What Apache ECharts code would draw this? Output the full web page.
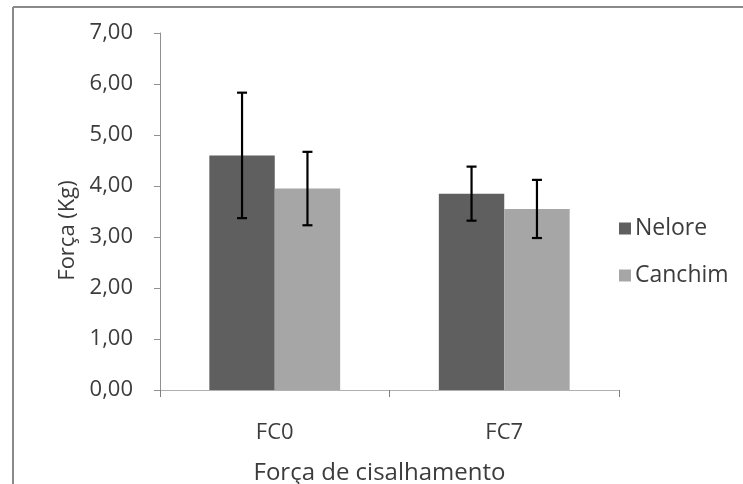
<!DOCTYPE html>
<html>
<head>
<meta charset="utf-8">
<script src="https://cdn.jsdelivr.net/npm/echarts@6/dist/echarts.min.js"></script>
<style>html,body{margin:0;padding:0;background:#fff}#c{width:743px;height:484px}</style>
</head>
<body>
<div id="c"></div>
<script>
var categories = ['FC0', 'FC7'];
var seriesNames = ['Nelore', 'Canchim'];
var nelore = [4.60, 3.85];
var canchim = [3.95, 3.55];
var neloreErr = [1.23, 0.53];
var canchimErr = [0.72, 0.57];
var yTicks = [0, 1, 2, 3, 4, 5, 6, 7];

var chart = echarts.init(document.getElementById('c'));
var font = 'Open Sans';
var txt = '#3c3c3c';

function errSeries(idx, vals, errs) {
  return {
    type: 'custom',
    name: seriesNames[idx] + ' err',
    z: 10,
    renderItem: function (params, api) {
      var ci = api.value(0);
      var lo = api.coord([ci, api.value(1)]);
      var hi = api.coord([ci, api.value(2)]);
      var band = api.size([1, 0])[0];
      var barW = band * 0.57 / 2;
      var x = lo[0] + (idx === 0 ? -barW / 2 : barW / 2);
      var cap = 5;
      var st = { stroke: '#000', lineWidth: 2.2 };
      return { type: 'group', children: [
        { type: 'line', shape: { x1: x, y1: lo[1], x2: x, y2: hi[1] }, style: st },
        { type: 'line', shape: { x1: x - cap, y1: lo[1], x2: x + cap, y2: lo[1] }, style: st },
        { type: 'line', shape: { x1: x - cap, y1: hi[1], x2: x + cap, y2: hi[1] }, style: st }
      ]};
    },
    data: vals.map(function (v, i) { return [i, v - errs[i], v + errs[i]]; })
  };
}

chart.setOption({
  animation: false,
  backgroundColor: '#fff',
  graphic: [
    { type: 'line', shape: { x1: 13, y1: 7, x2: 743, y2: 7 }, style: { stroke: '#8a8a8a', lineWidth: 2 } },
    { type: 'line', shape: { x1: 13, y1: 7, x2: 13, y2: 484 }, style: { stroke: '#8a8a8a', lineWidth: 2 } }
  ],
  grid: { left: 160, right: 124, top: 33, bottom: 94, containLabel: false, outerBoundsMode: 'none' },
  legend: {
    orient: 'vertical',
    left: 614, top: 212,
    itemWidth: 12, itemHeight: 12, itemGap: 24,
    icon: 'rect',
    data: seriesNames,
    textStyle: { fontFamily: font, fontSize: 23, color: txt, padding: [0, 0, 0, -1] }
  },
  xAxis: {
    type: 'category',
    data: categories,
    name: 'Força de cisalhamento',
    nameLocation: 'middle',
    nameGap: 71,
    nameTextStyle: { fontFamily: font, fontSize: 24, color: txt, padding: [0, 20, 0, 0] },
    axisLine: { lineStyle: { color: '#b0b0b0', width: 1 } },
    axisTick: { show: true, length: 7, lineStyle: { color: '#808080' } },
    axisLabel: { fontFamily: font, fontSize: 22, color: txt, margin: 32 }
  },
  yAxis: {
    type: 'value',
    min: 0, max: 7, interval: 1,
    name: 'Força (Kg)',
    nameLocation: 'middle',
    nameGap: 79,
    nameRotate: 90,
    nameTextStyle: { fontFamily: font, fontSize: 22, color: txt, padding: [0, 38, 0, 0] },
    axisLine: { show: true, lineStyle: { color: '#909090', width: 1 } },
    axisTick: { show: true, length: 6, lineStyle: { color: '#909090' } },
    splitLine: { show: false },
    axisLabel: {
      fontFamily: font, fontSize: 22, color: txt, margin: 27,
      formatter: function (v) { return yTicks.indexOf(v) >= 0 ? v.toFixed(2).replace('.', ',') : ''; }
    }
  },
  series: [
    { type: 'bar', name: 'Nelore', data: nelore, barGap: '0%', barCategoryGap: '43%', itemStyle: { color: '#5f5f5f' } },
    { type: 'bar', name: 'Canchim', data: canchim, barGap: '0%', barCategoryGap: '43%', itemStyle: { color: '#a6a6a6' } },
    errSeries(0, nelore, neloreErr),
    errSeries(1, canchim, canchimErr)
  ]
});
</script>
</body>
</html>
